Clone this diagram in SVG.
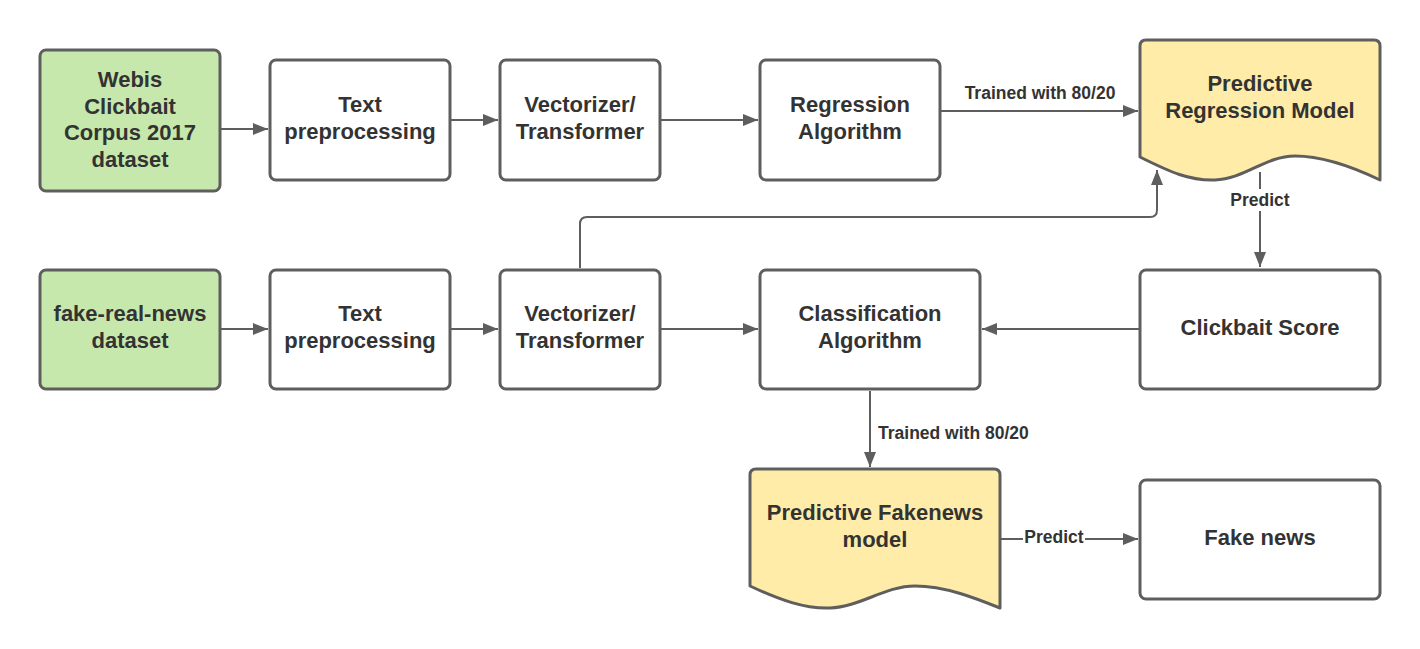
<svg xmlns="http://www.w3.org/2000/svg" width="1420" height="649" viewBox="0 0 1420 649">
<defs>
<marker id="arr" markerUnits="userSpaceOnUse" markerWidth="16" markerHeight="14" refX="15" refY="6" orient="auto">
<path d="M0,0 L15,6 L0,12 Z" fill="#5e5e5e"/>
</marker>
<style>
.box{fill:#ffffff;stroke:#5e5e5e;stroke-width:3}
.green{fill:#c7e8ac;stroke:#5e5e5e;stroke-width:3}
.doc{fill:#ffeca9;stroke:#5e5e5e;stroke-width:3;stroke-linejoin:round}
.t{font-family:"Liberation Sans",Arial,sans-serif;font-weight:bold;font-size:22px;fill:#333333;text-anchor:middle}
.lbl{font-family:"Liberation Sans",Arial,sans-serif;font-weight:bold;font-size:17.5px;fill:#333333}
.c{fill:none;stroke:#5e5e5e;stroke-width:2}
</style>
</defs>
<rect width="1420" height="649" fill="#ffffff"/>

<g id="connectors">
<path class="c" d="M221,129 H268" marker-end="url(#arr)"/>
<path class="c" d="M451,120 H498" marker-end="url(#arr)"/>
<path class="c" d="M661,120 H758" marker-end="url(#arr)"/>
<path class="c" d="M941,111 H1138" marker-end="url(#arr)"/>
<path class="c" d="M1260,172 V267" marker-end="url(#arr)"/>
<path class="c" d="M221,329 H268" marker-end="url(#arr)"/>
<path class="c" d="M451,329 H498" marker-end="url(#arr)"/>
<path class="c" d="M661,329 H758" marker-end="url(#arr)"/>
<path class="c" d="M1139,329 H982" marker-end="url(#arr)"/>
<path class="c" d="M580,268 V224 Q580,217 587,217 H1150 Q1157,217 1157,210 V170" marker-end="url(#arr)"/>
<path class="c" d="M870,391 V467" marker-end="url(#arr)"/>
<path class="c" d="M1001,539 H1138" marker-end="url(#arr)"/>
<rect x="1226" y="189" width="68" height="22" fill="#ffffff"/>
<text class="lbl" x="1260" y="206" text-anchor="middle">Predict</text>
<text class="lbl" x="1040" y="99" text-anchor="middle">Trained with 80/20</text>
<text class="lbl" x="878" y="439">Trained with 80/20</text>
<rect x="1023" y="528" width="62" height="20" fill="#ffffff"/>
<text class="lbl" x="1054" y="543" text-anchor="middle">Predict</text>
</g>

<g id="webis">
<rect class="green" x="40" y="50" width="180" height="141" rx="6"/>
<text class="t" x="130" y="87">Webis</text>
<text class="t" x="130" y="114">Clickbait</text>
<text class="t" x="130" y="140">Corpus 2017</text>
<text class="t" x="130" y="167">dataset</text>
</g>
<g id="text-pre-1">
<rect class="box" x="270" y="60" width="180" height="120" rx="6"/>
<text class="t" x="360" y="112">Text</text>
<text class="t" x="360" y="139">preprocessing</text>
</g>
<g id="vectorizer-1">
<rect class="box" x="500" y="60" width="160" height="120" rx="6"/>
<text class="t" x="580" y="112">Vectorizer/</text>
<text class="t" x="580" y="139">Transformer</text>
</g>
<g id="regression">
<rect class="box" x="760" y="60" width="180" height="120" rx="6"/>
<text class="t" x="850" y="112">Regression</text>
<text class="t" x="850" y="139">Algorithm</text>
</g>
<g id="predictive-regression">
<path class="doc" d="M1140,157 V46 Q1140,40 1146,40 H1374 Q1380,40 1380,46 V180 C1355,168 1325,156 1295,156 C1265,156 1245,179 1215,180 C1190,181 1170,172 1140,157 Z"/>
<text class="t" x="1260" y="91">Predictive</text>
<text class="t" x="1260" y="118">Regression Model</text>
</g>
<g id="fake-real-news">
<rect class="green" x="40" y="270" width="180" height="119" rx="6"/>
<text class="t" x="130" y="321">fake-real-news</text>
<text class="t" x="130" y="348">dataset</text>
</g>
<g id="text-pre-2">
<rect class="box" x="270" y="270" width="180" height="119" rx="6"/>
<text class="t" x="360" y="321">Text</text>
<text class="t" x="360" y="348">preprocessing</text>
</g>
<g id="vectorizer-2">
<rect class="box" x="500" y="270" width="160" height="119" rx="6"/>
<text class="t" x="580" y="321">Vectorizer/</text>
<text class="t" x="580" y="348">Transformer</text>
</g>
<g id="classification">
<rect class="box" x="760" y="270" width="220" height="119" rx="6"/>
<text class="t" x="870" y="321">Classification</text>
<text class="t" x="870" y="348">Algorithm</text>
</g>
<g id="clickbait-score">
<rect class="box" x="1140" y="270" width="240" height="119" rx="6"/>
<text class="t" x="1260" y="335">Clickbait Score</text>
</g>
<g id="predictive-fakenews">
<path class="doc" d="M750,586 V475 Q750,469 756,469 H994 Q1000,469 1000,475 V608 C975,598 945,586 915,586 C885,586 860,607 830,608 C805,609 780,600 750,586 Z"/>
<text class="t" x="875" y="520">Predictive Fakenews</text>
<text class="t" x="875" y="547">model</text>
</g>
<g id="fake-news">
<rect class="box" x="1140" y="480" width="240" height="119" rx="6"/>
<text class="t" x="1260" y="545">Fake news</text>
</g>
</svg>
